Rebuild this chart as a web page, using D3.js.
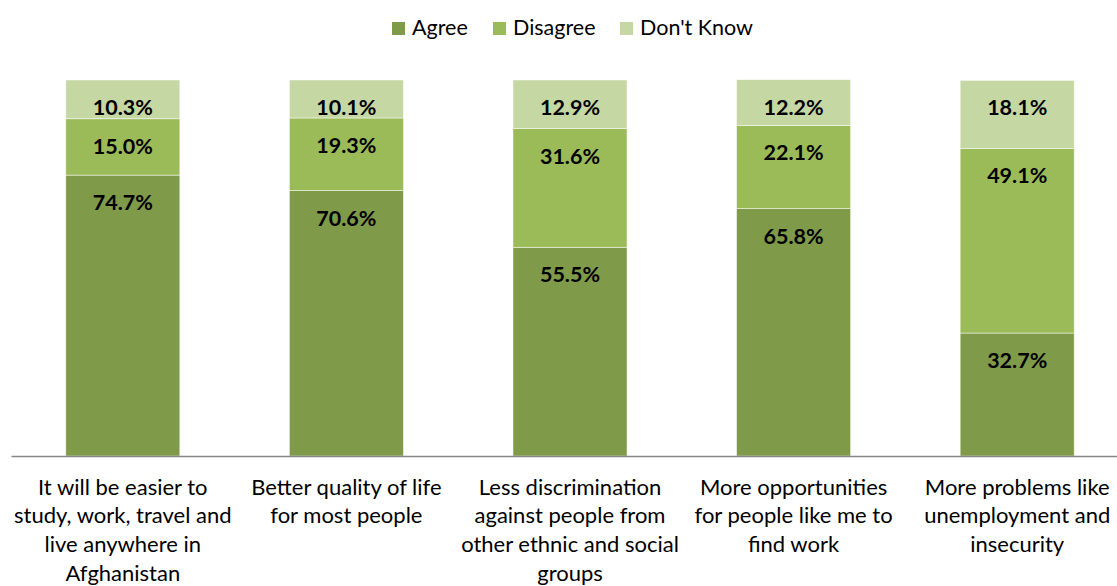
<!DOCTYPE html>
<html>
<head>
<meta charset="utf-8">
<script src="https://cdn.jsdelivr.net/npm/d3@7/dist/d3.min.js"></script>
<style>
  html, body { margin: 0; padding: 0; background: #ffffff; }
  svg { display: block; font-family: Lato, "Liberation Sans", sans-serif; }
</style>
</head>
<body>
<svg id="chart" width="1117" height="586"></svg>
<script>
// Survey statements (axis labels, one entry per line)
const categories = [
  ["It will be easier to", "study, work, travel and", "live anywhere in", "Afghanistan"],
  ["Better quality of life", "for most people"],
  ["Less discrimination", "against people from", "other ethnic and social", "groups"],
  ["More opportunities", "for people like me to", "find work"],
  ["More problems like", "unemployment and", "insecurity"]
];
const seriesNames = ["Agree", "Disagree", "Don't Know"];
const agree     = [74.7, 70.6, 55.5, 65.8, 32.7];
const disagree  = [15.0, 19.3, 31.6, 22.1, 49.1];
const dontKnow  = [10.3, 10.1, 12.9, 12.2, 18.1];
const colors = ["#7f9a48", "#9bbb59", "#c5d7a3"];

const svg = d3.select("#chart");
const plot = { left: 11, right: 1129, top: 80, bottom: 456 };

const rows = categories.map((c, i) => ({
  key: i,
  "Agree": agree[i],
  "Disagree": disagree[i],
  "Don't Know": dontKnow[i]
}));
const stacked = d3.stack().keys(seriesNames)(rows);

const x = d3.scaleBand()
  .domain(rows.map(d => d.key))
  .range([plot.left, plot.right])
  .paddingInner(0.49)
  .paddingOuter(0.245);

const y = d3.scaleLinear().domain([0, 100]).range([plot.bottom, plot.top]);

// Stacked bar segments
const layers = svg.append("g").selectAll("g")
  .data(stacked)
  .join("g")
  .attr("fill", (d, i) => colors[i]);

layers.selectAll("rect")
  .data(d => d)
  .join("rect")
  .attr("x", d => x(d.data.key))
  .attr("width", x.bandwidth())
  .attr("y", d => y(d[1]))
  .attr("height", d => y(d[0]) - y(d[1]))
  .attr("stroke", "#ffffff")
  .attr("stroke-opacity", 0.6)
  .attr("stroke-width", 0.8);

// Value labels near the top of each segment
layers.selectAll("text")
  .data(d => d)
  .join("text")
  .attr("x", d => x(d.data.key) + x.bandwidth() / 2)
  .attr("y", d => y(d[1]) + 35)
  .attr("text-anchor", "middle")
  .attr("font-weight", "bold")
  .attr("font-size", "21.5px")
  .attr("fill", "#000000")
  .text(d => (d[1] - d[0]).toFixed(1) + "%");

// Category axis
const axis = d3.axisBottom(x).tickSize(0).tickFormat("");
const axisG = svg.append("g")
  .attr("transform", `translate(0,${plot.bottom})`)
  .call(axis);
axisG.select(".domain").attr("stroke", "#868686").attr("stroke-width", 1.5);

const labelG = svg.append("g");
rows.forEach((d, i) => {
  const t = labelG.append("text")
    .attr("text-anchor", "middle")
    .attr("font-size", "22px")
    .attr("fill", "#000000");
  categories[i].forEach((line, j) => {
    t.append("tspan")
      .attr("x", x(d.key) + x.bandwidth() / 2)
      .attr("y", 494.5 + j * 28.8)
      .text(line);
  });
});

// Legend
const legendX = [392, 493, 620];
const legend = svg.append("g");
seriesNames.forEach((name, i) => {
  legend.append("rect")
    .attr("x", legendX[i])
    .attr("y", 22)
    .attr("width", 13)
    .attr("height", 13)
    .attr("fill", colors[i]);
  legend.append("text")
    .attr("x", legendX[i] + 20)
    .attr("y", 35)
    .attr("font-size", "21.5px")
    .attr("fill", "#000000")
    .text(name);
});
</script>
</body>
</html>
